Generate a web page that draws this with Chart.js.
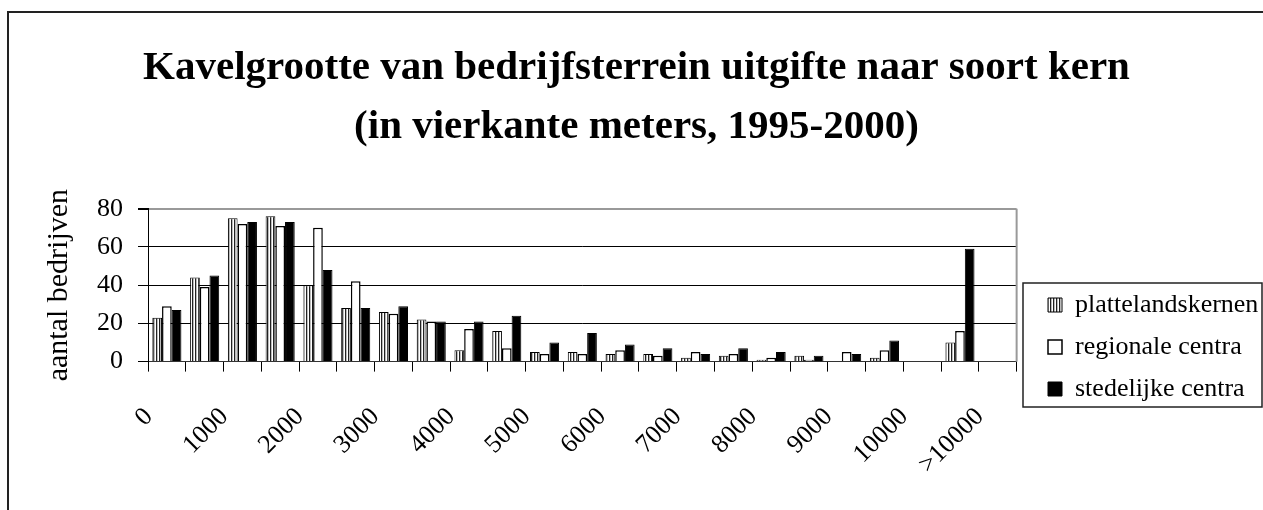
<!DOCTYPE html>
<html>
<head>
<meta charset="utf-8">
<script src="https://cdn.jsdelivr.net/npm/chart.js@4.4.1/dist/chart.umd.min.js"></script>
<style>
  html, body { margin: 0; padding: 0; background: #fff; }
</style>
</head>
<body>
<canvas id="kavelCanvas" width="1263" height="510"></canvas>
<script>
// tick labels, one per category (every other one is left blank like the original)
const categories = [
  "0", "", "1000", "", "2000", "", "3000", "", "4000", "", "5000", "",
  "6000", "", "7000", "", "8000", "", "9000", "", "10000", "", ">10000",
];
const plattelandskernen = [23, 44, 75, 76, 40, 28, 26, 22, 6, 16, 5, 5, 4, 4, 2, 3, 1, 3, 0, 2, 0, 10, 0];
const regionaleCentra = [29, 39, 72, 71, 70, 42, 25, 21, 17, 7, 4, 4, 6, 3, 5, 4, 2, 1, 5, 6, 0, 16, 0];
const stedelijkeCentra = [27, 45, 73, 73, 48, 28, 29, 21, 21, 24, 10, 15, 9, 7, 4, 7, 5, 3, 4, 11, 0, 59, 0];
const yTicks = [0, 20, 40, 60, 80];

const FONT = "'Liberation Serif', 'Times New Roman', serif";

const ctx = document.getElementById("kavelCanvas").getContext("2d");

function createVerticalStripesPattern(ctx) {
  const patternCanvas = document.createElement("canvas");
  patternCanvas.width = 3;
  patternCanvas.height = 4;
  const pctx = patternCanvas.getContext("2d");
  pctx.fillStyle = "#fff";
  pctx.fillRect(0, 0, 3, 4);
  // stripe
  pctx.fillStyle = "#222";
  pctx.fillRect(0, 0, 1, 4);
  pctx.fillStyle = "#bbb";
  pctx.fillRect(1, 0, 1, 4);
  return ctx.createPattern(patternCanvas, "repeat");
}

// frame around the picture, plot border and the legend box
const framePlugin = {
  id: "frame",
  beforeDraw(chart) {
    const c = chart.ctx;
    c.save();
    c.fillStyle = "#fff";
    c.fillRect(0, 0, chart.width, chart.height);
    c.restore();
  },
  afterLayout(chart) {
    const lg = chart.legend;
    lg.left = 1032;
    lg.right = lg.left + lg.width;
    lg.top = 276;
    lg.bottom = lg.top + 170;
  },
  afterDraw(chart) {
    const c = chart.ctx;
    const area = chart.chartArea;
    const lg = chart.legend;
    c.save();
    // outer frame
    c.strokeStyle = "#222";
    c.lineWidth = 2;
    c.beginPath();
    c.moveTo(8, chart.height);
    c.lineTo(8, 12);
    c.lineTo(chart.width, 12);
    c.stroke();
    // plot right border
    c.strokeStyle = "#999";
    c.lineWidth = 2;
    c.beginPath();
    c.moveTo(area.right, area.top);
    c.lineTo(area.right, area.bottom);
    c.stroke();
    // legend border
    c.strokeStyle = "#222";
    c.lineWidth = 1.5;
    c.strokeRect(lg.left - 9, lg.top + 7, 239, 124);
    c.restore();
  },
};

const kavelChart = new Chart(ctx, {
  type: "bar",
  data: {
    labels: categories,
    datasets: [
      {
        label: "plattelandskernen",
        data: plattelandskernen,
        backgroundColor: createVerticalStripesPattern(ctx),
        borderColor: "#000",
        borderWidth: 1,
      },
      {
        label: "regionale centra",
        data: regionaleCentra,
        backgroundColor: "#fff",
        borderColor: "#000",
        borderWidth: 1.5,
      },
      {
        label: "stedelijke centra",
        data: stedelijkeCentra,
        backgroundColor: "#000",
        borderColor: "#000",
        borderWidth: 1,
      },
    ],
  },
  options: {
    responsive: false,
    animation: false,
    devicePixelRatio: 1,
    categoryPercentage: 0.77,
    barPercentage: 1.0,
    layout: { padding: { left: 20, right: 10, top: 0, bottom: 0 } },
    plugins: {
      tooltip: { enabled: false },
      title: {
        display: true,
        text: [
          "Kavelgrootte van bedrijfsterrein uitgifte naar soort kern",
          "(in vierkante meters, 1995-2000)",
        ],
        color: "#000",
        font: { family: FONT, size: 41, weight: "bold", lineHeight: 1.46 },
        padding: { top: 38, bottom: 51 },
      },
      legend: {
        position: "right",
        align: "start",
        labels: {
          color: "#000",
          font: { family: FONT, size: 26 },
          boxWidth: 14,
          boxHeight: 14,
          padding: 16,
        },
      },
    },
    scales: {
      x: {
        offset: true,
        grid: {
          offset: true,
          drawOnChartArea: false,
          drawTicks: true,
          tickLength: 10,
          tickColor: "#000",
        },
        border: { display: true, color: "#333", width: 1 },
        ticks: {
          autoSkip: false,
          maxRotation: 45,
          minRotation: 45,
          padding: 30,
          labelOffset: -18,
          color: "#000",
          font: { family: FONT, size: 26 },
        },
      },
      y: {
        min: 0,
        max: 80,
        afterBuildTicks: (axis) => {
          axis.ticks = yTicks.map((v) => ({ value: v }));
        },
        ticks: {
          autoSkip: false,
          padding: 15,
          color: "#000",
          font: { family: FONT, size: 26 },
        },
        grid: {
          color: (c) => (c.tick && c.tick.value === 80 ? "#999" : "#000"),
          lineWidth: (c) => (c.tick && c.tick.value === 80 ? 2 : 1),
          tickColor: "#000",
          tickLength: 10,
        },
        border: { display: true, color: "#000", width: 1 },
        title: {
          display: true,
          text: "aantal bedrijven",
          color: "#000",
          font: { family: FONT, size: 30 },
          padding: { top: 21, bottom: 5 },
        },
      },
    },
  },
  plugins: [framePlugin],
});
</script>
</body>
</html>
